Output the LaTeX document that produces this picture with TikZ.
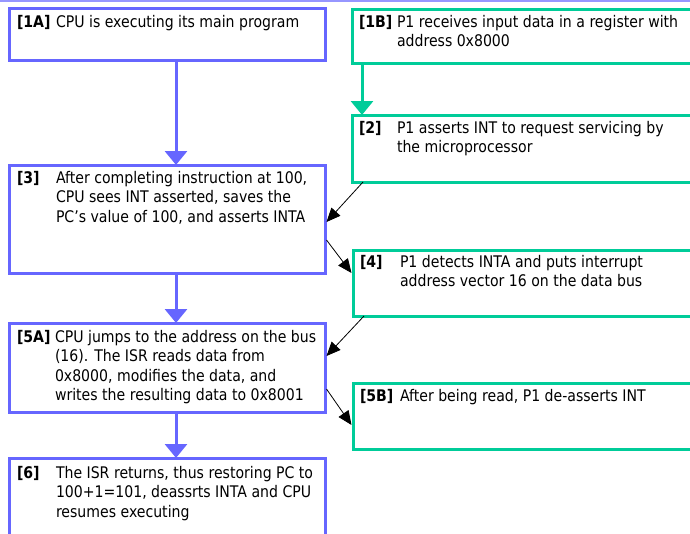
\documentclass[tikz,border=0pt]{standalone}
\usepackage{fontspec}
\setmainfont{DejaVu Sans}[FakeStretch=0.88]
\usetikzlibrary{arrows.meta,calc}
\definecolor{cpublue}{RGB}{102,102,255}
\definecolor{periphgreen}{RGB}{0,204,153}
\definecolor{rulelav}{RGB}{150,150,255}
% multi-line step description, baseline on its first line
\newcommand\steptext[1]{\parbox[t]{340pt}{\raggedright #1}}
\begin{document}
\begin{tikzpicture}[x=1pt,y=-1pt,
  every node/.style={inner sep=0pt, outer sep=0pt},
  font=\fontsize{16}{19.5}\selectfont,
  cpubox/.style={draw=cpublue, line width=3pt, rectangle, minimum width=316pt},
  p1box/.style={draw=periphgreen, line width=3pt, rectangle, minimum width=347pt},
  steplabel/.style={anchor=base west, font=\fontsize{16}{19.5}\selectfont\bfseries},
  stepbody/.style={anchor=base west},
  flow/.style={line width=3pt, -{Triangle[length=14pt,width=22pt]}},
  signal/.style={draw=black, line width=0.8pt, -{Triangle[length=14pt,width=12pt]}}]

\useasboundingbox (0,0) rectangle (690,533);
\clip (0,0) rectangle (690,533);
\fill[white] (0,0) rectangle (690,533);
\draw[rulelav, line width=2pt] (0,1) -- (690,1);

% CPU side
\node[cpubox, minimum height=52pt]  (b1a) at (167,34) {};
\node[cpubox, minimum height=108pt] (b3)  at (167,219) {};
\node[cpubox, minimum height=89pt]  (b5a) at (167,367.5) {};
\node[cpubox, minimum height=87pt]  (b6)  at (167,501.5) {};

% peripheral side
\node[p1box, minimum width=348pt, minimum height=54pt] (b1b) at (526,36) {};
\node[p1box, minimum width=348pt, minimum height=67pt] (b2)  at (526,148.5) {};
\node[p1box, minimum height=66pt] (b4)  at (526.5,283) {};
\node[p1box, minimum height=66pt] (b5b) at (526.5,416) {};

% step texts
\node[steplabel] (l1a) at (17,27) {[1A]};
\node[stepbody]  (t1a) at (56,27) {CPU is executing its main program};

\node[steplabel] (l3) at (17,183) {[3]};
\node[stepbody]  (t3) at (56,183) {\steptext{After completing instruction at 100,\\CPU sees INT asserted, saves the\\PC’s value of 100, and asserts INTA}};

\node[steplabel] (l5a) at (17,342) {[5A]};
\node[stepbody]  (t5a) at (55,342) {\steptext{CPU jumps to the address on the bus\\(16). The ISR reads data from\\0x8000, modifies the data, and\\writes the resulting data to 0x8001}};

\node[steplabel] (l6) at (17,478) {[6]};
\node[stepbody]  (t6) at (56,478) {\steptext{The ISR returns, thus restoring PC to\\100+1=101, deassrts INTA and CPU\\resumes executing}};

\node[steplabel] (l1b) at (359,27) {[1B]};
\node[stepbody]  (t1b) at (397,27) {\steptext{P1 receives input data in a register with\\address 0x8000}};

\node[steplabel] (l2) at (359,133) {[2]};
\node[stepbody]  (t2) at (397,133) {\steptext{P1 asserts INT to request servicing by\\the microprocessor}};

\node[steplabel] (l4) at (360,267) {[4]};
\node[stepbody]  (t4) at (400,267) {\steptext{P1 detects INTA and puts interrupt\\address vector 16 on the data bus}};

\node[steplabel] (l5b) at (360,401) {[5B]};
\node[stepbody]  (t5b) at (400,401) {After being read, P1 de-asserts INT};

% program flow
\draw[flow, draw=cpublue] ($(b1a.south west)+(167,0)$) -- ($(b3.north west)+(167,0)$);
\draw[flow, draw=cpublue] ($(b3.south west)+(167,0)$) -- ($(b5a.north west)+(167,0)$);
\draw[flow, draw=cpublue] ($(b5a.south west)+(167,0)$) -- ($(b6.north west)+(167,0)$);
\draw[flow, draw=periphgreen] ($(b1b.south west)+(10,0)$) -- ($(b2.north west)+(10,0)$);

% handshake signals
\draw[signal] ($(b2.south west)+(11,0)$) -- ($(b3.north east)+(1.5,57)$);
\draw[signal] ($(b3.north east)+(1.5,75)$) -- ($(b4.north west)+(-1.5,23)$);
\draw[signal] ($(b4.south west)+(11,0)$) -- ($(b5a.north east)+(1.5,33)$);
\draw[signal] ($(b5a.north east)+(1.5,66)$) -- ($(b5b.north west)+(-1.5,42)$);
\end{tikzpicture}
\end{document}
